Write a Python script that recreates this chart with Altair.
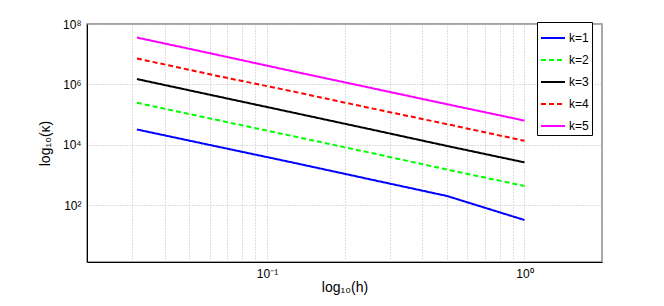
import altair as alt
import pandas as pd

h = [1/32, 1/16, 1/8, 1/4, 1/2, 1.0]
k1 = [3.2e4, 9.1e3, 2.6e3, 7.2e2, 2.0e2, 32]
k2 = [2.45e5, 6.9e4, 1.95e4, 5.5e3, 1.5e3, 4.3e2]
k3 = [1.5e6, 4.2e5, 1.18e5, 3.3e4, 9.1e3, 2.6e3]
k4 = [7.2e6, 2.0e6, 5.9e5, 1.66e5, 4.8e4, 1.35e4]
k5 = [3.55e7, 1.0e7, 2.75e6, 7.8e5, 2.2e5, 6.3e4]
labels = ["k=1", "k=2", "k=3", "k=4", "k=5"]
colors = ["#0000FF", "#00FF00", "#000000", "#FF0000", "#FF00FF"]
dashes = [[1, 0], [5, 3], [1, 0], [5, 3], [1, 0]]

x_ticks = [0.02, 0.03, 0.04, 0.05, 0.06, 0.07, 0.08, 0.09, 0.1,
           0.2, 0.3, 0.4, 0.5, 0.6, 0.7, 0.8, 0.9, 1.0, 2.0]
y_ticks = [1e2, 1e4, 1e6, 1e8]

rows = []
for lab, series in zip(labels, [k1, k2, k3, k4, k5]):
    for hv, kv in zip(h, series):
        rows.append({"h": hv, "kappa": kv, "k": lab})
df = pd.DataFrame(rows)

chart = alt.Chart(df).mark_line(strokeWidth=2, clip=True).encode(
    x=alt.X("h:Q",
            scale=alt.Scale(type="log", domain=[0.02, 2], nice=False),
            axis=alt.Axis(values=x_ticks, title="log₁₀(h)",
                          labelExpr="datum.value == 0.1 ? '10⁻¹' : (datum.value == 1 ? '10⁰' : '')",
                          grid=True, ticks=False, labelPadding=6, titlePadding=1)),
    y=alt.Y("kappa:Q",
            scale=alt.Scale(type="log", domain=[1.3, 1e8], nice=False),
            axis=alt.Axis(values=y_ticks, title="log₁₀(κ)",
                          labelExpr="datum.value == 100 ? '10²' : (datum.value == 10000 ? '10⁴' : (datum.value == 1000000 ? '10⁶' : '10⁸'))",
                          grid=True, ticks=False, labelPadding=6, titlePadding=10)),
    color=alt.Color("k:N", scale=alt.Scale(domain=labels, range=colors),
                    legend=alt.Legend(title=None)),
    strokeDash=alt.StrokeDash("k:N", scale=alt.Scale(domain=labels, range=dashes),
                              legend=alt.Legend(title=None)),
).properties(
    width=515, height=238,
    autosize=alt.AutoSizeParams(type="none"),
    padding={"left": 79, "top": 16, "right": 54, "bottom": 36},
).configure_view(
    stroke="#888888", strokeWidth=1.5, fill="white"
).configure_axis(
    domainColor="#000000", domainWidth=1,
    gridColor="#bbbbbb", gridDash=[1, 2], gridOpacity=1, gridWidth=1,
    labelFont="Liberation Sans", labelFontSize=12, labelColor="#000000",
    titleFont="Liberation Sans", titleFontSize=14, titleFontWeight="normal", titleColor="#000000",
).configure_legend(
    orient="none", legendX=450, legendY=-2,
    strokeColor="#000000", fillColor="white", padding=3,
    labelFont="Liberation Sans", labelFontSize=12, labelColor="#000000",
    symbolType="stroke", symbolSize=576, symbolStrokeWidth=2,
    labelOffset=3, rowPadding=3,
)

chart.save("out.html", embed_options={"renderer": "svg", "actions": False})
